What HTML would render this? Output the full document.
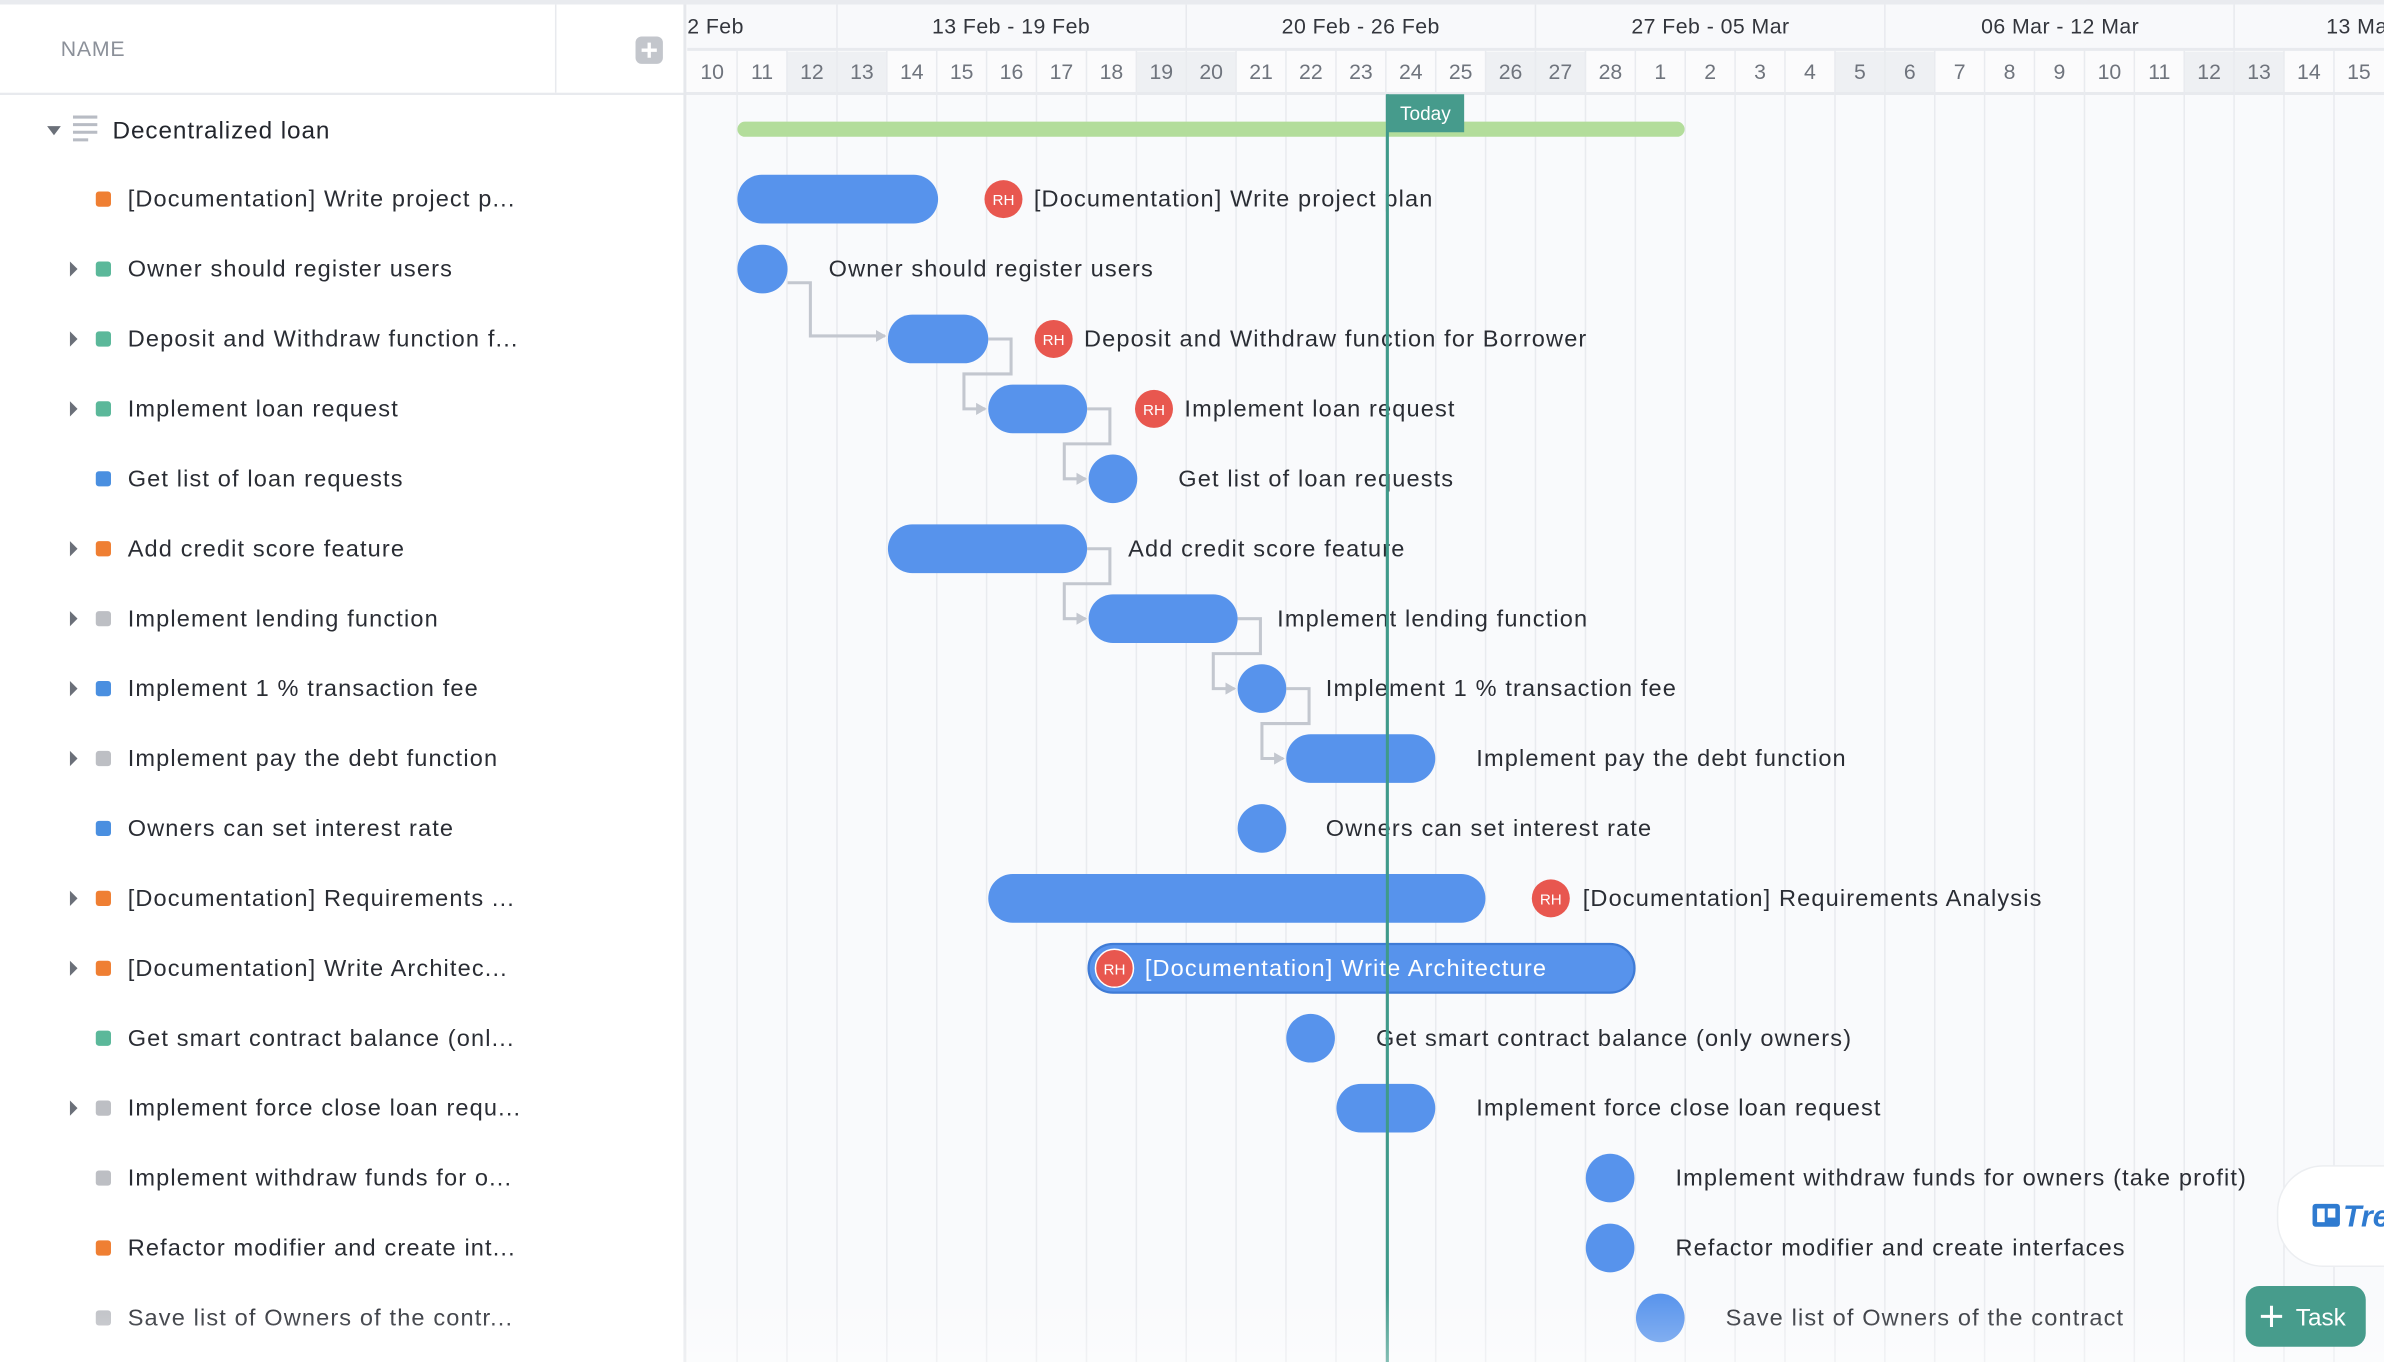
<!DOCTYPE html>
<html><head><meta charset="utf-8"><style>
html,body{margin:0;padding:0;background:#fff;overflow:hidden}
svg{display:block}
text{font-family:"Liberation Sans",sans-serif}
.lbl text{letter-spacing:0.75px}
</style></head><body>
<svg width="2384" height="1362" viewBox="0 0 1568 896" preserveAspectRatio="none" xmlns="http://www.w3.org/2000/svg">
<defs>
<linearGradient id="fade" x1="0" y1="0" x2="0" y2="1"><stop offset="0" stop-color="#fff" stop-opacity="0"/><stop offset="1" stop-color="#fff" stop-opacity="0.35"/></linearGradient>
<marker id="ar" markerWidth="8" markerHeight="8" refX="6" refY="4" orient="auto" markerUnits="userSpaceOnUse"><path d="M0,0 L7,4 L0,8 z" fill="#c3c7cf"/></marker>
</defs>
<rect width="1568" height="896" fill="#fff"/>
<rect width="1568" height="3" fill="#e9ebef"/>
<rect x="452" y="3" width="1116" height="893" fill="#f9fafc"/>
<rect x="452" y="3" width="1116" height="29" fill="#f8f9fb"/>
<rect x="452" y="33" width="1116" height="28" fill="#fbfbfc"/>
<g fill="#eef0f3">
<rect x="517.6" y="34" width="65.6" height="27"/><rect x="747.4" y="34" width="65.6" height="27"/><rect x="977.1" y="34" width="65.6" height="27"/><rect x="1206.9" y="34" width="65.6" height="27"/><rect x="1436.6" y="34" width="65.6" height="27"/>
</g>
<line x1="452" y1="32.5" x2="1568" y2="32.5" stroke="#e8eaee" stroke-width="2"/>
<line x1="0" y1="61.5" x2="1568" y2="61.5" stroke="#e8eaee" stroke-width="2"/>
<g stroke="#e8eaee" stroke-width="1">
<line x1="550.5" y1="3" x2="550.5" y2="32"/><line x1="780.2" y1="3" x2="780.2" y2="32"/><line x1="1009.9" y1="3" x2="1009.9" y2="32"/><line x1="1239.7" y1="3" x2="1239.7" y2="32"/><line x1="1469.4" y1="3" x2="1469.4" y2="32"/>
</g>
<g stroke="#e9ebef" stroke-width="1">
<line x1="484.8" y1="33" x2="484.8" y2="896"/><line x1="517.6" y1="33" x2="517.6" y2="896"/><line x1="550.5" y1="33" x2="550.5" y2="896"/><line x1="583.3" y1="33" x2="583.3" y2="896"/><line x1="616.1" y1="33" x2="616.1" y2="896"/><line x1="648.9" y1="33" x2="648.9" y2="896"/><line x1="681.7" y1="33" x2="681.7" y2="896"/><line x1="714.6" y1="33" x2="714.6" y2="896"/><line x1="747.4" y1="33" x2="747.4" y2="896"/><line x1="780.2" y1="33" x2="780.2" y2="896"/><line x1="813.0" y1="33" x2="813.0" y2="896"/><line x1="845.8" y1="33" x2="845.8" y2="896"/><line x1="878.7" y1="33" x2="878.7" y2="896"/><line x1="911.5" y1="33" x2="911.5" y2="896"/><line x1="944.3" y1="33" x2="944.3" y2="896"/><line x1="977.1" y1="33" x2="977.1" y2="896"/><line x1="1009.9" y1="33" x2="1009.9" y2="896"/><line x1="1042.8" y1="33" x2="1042.8" y2="896"/><line x1="1075.6" y1="33" x2="1075.6" y2="896"/><line x1="1108.4" y1="33" x2="1108.4" y2="896"/><line x1="1141.2" y1="33" x2="1141.2" y2="896"/><line x1="1174.0" y1="33" x2="1174.0" y2="896"/><line x1="1206.9" y1="33" x2="1206.9" y2="896"/><line x1="1239.7" y1="33" x2="1239.7" y2="896"/><line x1="1272.5" y1="33" x2="1272.5" y2="896"/><line x1="1305.3" y1="33" x2="1305.3" y2="896"/><line x1="1338.1" y1="33" x2="1338.1" y2="896"/><line x1="1371.0" y1="33" x2="1371.0" y2="896"/><line x1="1403.8" y1="33" x2="1403.8" y2="896"/><line x1="1436.6" y1="33" x2="1436.6" y2="896"/><line x1="1469.4" y1="33" x2="1469.4" y2="896"/><line x1="1502.2" y1="33" x2="1502.2" y2="896"/><line x1="1535.1" y1="33" x2="1535.1" y2="896"/>
</g>
<g font-size="14" fill="#33363d" letter-spacing="0.3">
<text x="452" y="22">2 Feb</text>
<text x="665" y="22" text-anchor="middle">13 Feb - 19 Feb</text>
<text x="895" y="22" text-anchor="middle">20 Feb - 26 Feb</text>
<text x="1125" y="22" text-anchor="middle">27 Feb - 05 Mar</text>
<text x="1355" y="22" text-anchor="middle">06 Mar - 12 Mar</text>
<text x="1530" y="22">13 Mar</text>
</g>
<g font-size="14" fill="#6f747d" text-anchor="middle">
<text x="468.4" y="52">10</text><text x="501.2" y="52">11</text><text x="534.0" y="52">12</text><text x="566.9" y="52">13</text><text x="599.7" y="52">14</text><text x="632.5" y="52">15</text><text x="665.3" y="52">16</text><text x="698.1" y="52">17</text><text x="731.0" y="52">18</text><text x="763.8" y="52">19</text><text x="796.6" y="52">20</text><text x="829.4" y="52">21</text><text x="862.2" y="52">22</text><text x="895.1" y="52">23</text><text x="927.9" y="52">24</text><text x="960.7" y="52">25</text><text x="993.5" y="52">26</text><text x="1026.3" y="52">27</text><text x="1059.2" y="52">28</text><text x="1092.0" y="52">1</text><text x="1124.8" y="52">2</text><text x="1157.6" y="52">3</text><text x="1190.4" y="52">4</text><text x="1223.3" y="52">5</text><text x="1256.1" y="52">6</text><text x="1288.9" y="52">7</text><text x="1321.7" y="52">8</text><text x="1354.5" y="52">9</text><text x="1387.4" y="52">10</text><text x="1420.2" y="52">11</text><text x="1453.0" y="52">12</text><text x="1485.8" y="52">13</text><text x="1518.6" y="52">14</text><text x="1551.5" y="52">15</text>
</g>
<rect x="0" y="3" width="450" height="58" fill="#fff"/>
<line x1="450.5" y1="3" x2="450.5" y2="896" stroke="#e6e8ec" stroke-width="2"/>
<line x1="365.5" y1="3" x2="365.5" y2="61" stroke="#e8eaee"/>
<text x="40" y="37" font-size="14" fill="#8b9099" letter-spacing="0.5">NAME</text>
<rect x="418" y="24" width="18" height="18" rx="4" fill="#c3c6cc"/>
<path d="M427 28v10M422 33h10" stroke="#fff" stroke-width="2.2"/>
<path d="M31 83h9l-4.5 6z" fill="#6b7079"/>
<g stroke="#b8bcc4" stroke-width="2"><line x1="48" y1="77" x2="64" y2="77"/><line x1="48" y1="82" x2="64" y2="82"/><line x1="48" y1="87" x2="64" y2="87"/><line x1="48" y1="92" x2="58" y2="92"/></g>
<text x="74" y="91" font-size="16" fill="#23262d" letter-spacing="0.6">Decentralized loan</text>
<g fill="#6b7079">
<path d="M46 172v10l5-5z"/><path d="M46 218v10l5-5z"/><path d="M46 264v10l5-5z"/><path d="M46 356v10l5-5z"/><path d="M46 402v10l5-5z"/><path d="M46 448v10l5-5z"/><path d="M46 494v10l5-5z"/><path d="M46 586v10l5-5z"/><path d="M46 632v10l5-5z"/><path d="M46 724v10l5-5z"/>
</g>
<g>
<rect x="63" y="126" width="10" height="10" rx="2" fill="#ef7f33"/>
<rect x="63" y="172" width="10" height="10" rx="2" fill="#5bb89a"/>
<rect x="63" y="218" width="10" height="10" rx="2" fill="#5bb89a"/>
<rect x="63" y="264" width="10" height="10" rx="2" fill="#5bb89a"/>
<rect x="63" y="310" width="10" height="10" rx="2" fill="#4a8fe0"/>
<rect x="63" y="356" width="10" height="10" rx="2" fill="#ef7f33"/>
<rect x="63" y="402" width="10" height="10" rx="2" fill="#bdbfc4"/>
<rect x="63" y="448" width="10" height="10" rx="2" fill="#4a8fe0"/>
<rect x="63" y="494" width="10" height="10" rx="2" fill="#bdbfc4"/>
<rect x="63" y="540" width="10" height="10" rx="2" fill="#4a8fe0"/>
<rect x="63" y="586" width="10" height="10" rx="2" fill="#ef7f33"/>
<rect x="63" y="632" width="10" height="10" rx="2" fill="#ef7f33"/>
<rect x="63" y="678" width="10" height="10" rx="2" fill="#5bb89a"/>
<rect x="63" y="724" width="10" height="10" rx="2" fill="#bdbfc4"/>
<rect x="63" y="770" width="10" height="10" rx="2" fill="#bdbfc4"/>
<rect x="63" y="816" width="10" height="10" rx="2" fill="#ef7f33"/>
<rect x="63" y="862" width="10" height="10" rx="2" fill="#bdbfc4"/>
</g>
<g class="lbl" font-size="15.5" fill="#2a2d34">
<text x="84" y="136">[Documentation] Write project p...</text>
<text x="84" y="182">Owner should register users</text>
<text x="84" y="228">Deposit and Withdraw function f...</text>
<text x="84" y="274">Implement loan request</text>
<text x="84" y="320">Get list of loan requests</text>
<text x="84" y="366">Add credit score feature</text>
<text x="84" y="412">Implement lending function</text>
<text x="84" y="458">Implement 1 % transaction fee</text>
<text x="84" y="504">Implement pay the debt function</text>
<text x="84" y="550">Owners can set interest rate</text>
<text x="84" y="596">[Documentation] Requirements ...</text>
<text x="84" y="642">[Documentation] Write Architec...</text>
<text x="84" y="688">Get smart contract balance (onl...</text>
<text x="84" y="734">Implement force close loan requ...</text>
<text x="84" y="780">Implement withdraw funds for o...</text>
<text x="84" y="826">Refactor modifier and create int...</text>
<text x="84" y="872">Save list of Owners of the contr...</text>
</g>
<g fill="none" stroke="#c3c7cf" stroke-width="2" marker-end="url(#ar)">
<path d="M518 186H533V221H582"/>
<path d="M650 223H665V246H634V269H648"/>
<path d="M715 269H730V292H700V315H714"/>
<path d="M715 361H730V384H700V407H714"/>
<path d="M814 407H829V430H798V453H812"/>
<path d="M846 453H861V476H830V499H844"/>
</g>
<rect x="485" y="80" width="623" height="10" rx="5" fill="#b3dd9b"/>
<g fill="#5793ec">
<rect x="485" y="115" width="132" height="32" rx="16"/>
<rect x="485" y="161" width="33" height="32" rx="16"/>
<rect x="584" y="207" width="66" height="32" rx="16"/>
<rect x="650" y="253" width="65" height="32" rx="16"/>
<rect x="716" y="299" width="32" height="32" rx="16"/>
<rect x="584" y="345" width="131" height="32" rx="16"/>
<rect x="716" y="391" width="98" height="32" rx="16"/>
<rect x="814" y="437" width="32" height="32" rx="16"/>
<rect x="846" y="483" width="98" height="32" rx="16"/>
<rect x="814" y="529" width="32" height="32" rx="16"/>
<rect x="650" y="575" width="327" height="32" rx="16"/>
<rect x="716" y="621" width="359" height="32" rx="16" stroke="#3f7bd6" stroke-width="1.5"/>
<rect x="846" y="667" width="32" height="32" rx="16"/>
<rect x="879" y="713" width="65" height="32" rx="16"/>
<rect x="1043" y="759" width="32" height="32" rx="16"/>
<rect x="1043" y="805" width="32" height="32" rx="16"/>
<rect x="1076" y="851" width="32" height="32" rx="16"/>
</g>
<g fill="#e8574f">
<circle cx="660" cy="131" r="12.5"/><circle cx="693" cy="223" r="12.5"/><circle cx="759" cy="269" r="12.5"/><circle cx="1020" cy="591" r="12.5"/><circle cx="733" cy="637" r="12.5" stroke="#fff" stroke-width="1"/>
</g>
<g font-size="10" fill="#fff" text-anchor="middle">
<text x="660" y="135">RH</text><text x="693" y="227">RH</text><text x="759" y="273">RH</text><text x="1020" y="595">RH</text><text x="733" y="641">RH</text>
</g>
<g class="lbl" font-size="15.5" fill="#2a2d34">
<text x="680" y="136">[Documentation] Write project plan</text>
<text x="545" y="182">Owner should register users</text>
<text x="713" y="228">Deposit and Withdraw function for Borrower</text>
<text x="779" y="274">Implement loan request</text>
<text x="775" y="320">Get list of loan requests</text>
<text x="742" y="366">Add credit score feature</text>
<text x="840" y="412">Implement lending function</text>
<text x="872" y="458">Implement 1 % transaction fee</text>
<text x="971" y="504">Implement pay the debt function</text>
<text x="872" y="550">Owners can set interest rate</text>
<text x="1041" y="596">[Documentation] Requirements Analysis</text>
<text x="753" y="642" fill="#fff">[Documentation] Write Architecture</text>
<text x="905" y="688">Get smart contract balance (only owners)</text>
<text x="971" y="734">Implement force close loan request</text>
<text x="1102" y="780">Implement withdraw funds for owners (take profit)</text>
<text x="1102" y="826">Refactor modifier and create interfaces</text>
<text x="1135" y="872">Save list of Owners of the contract</text>
</g>
<rect x="911.5" y="62" width="2" height="834" fill="#3f9a8a"/>
<rect x="912" y="62" width="51" height="25" fill="#469b8c"/>
<text x="937.5" y="79" font-size="12.5" fill="#fff" text-anchor="middle">Today</text>
<rect x="0" y="850" width="1568" height="46" fill="url(#fade)"/>
<rect x="1498" y="767" width="110" height="66" rx="30" fill="#fff" stroke="#eceef1"/>
<rect x="1521" y="792" width="18" height="15" rx="2" fill="#2f7bd0"/>
<rect x="1524" y="795" width="5" height="9" fill="#fff"/><rect x="1531" y="795" width="5" height="6" fill="#fff"/>
<text x="1541" y="807" font-size="20" font-style="italic" font-weight="bold" fill="#2f7bd0">Tre</text>
<rect x="1477" y="846" width="79" height="40" rx="9" fill="#479c8c"/>
<path d="M1494 859v14M1487 866h14" stroke="#fff" stroke-width="2"/>
<text x="1510" y="872" font-size="16" fill="#fff">Task</text>
</svg>
</body></html>
